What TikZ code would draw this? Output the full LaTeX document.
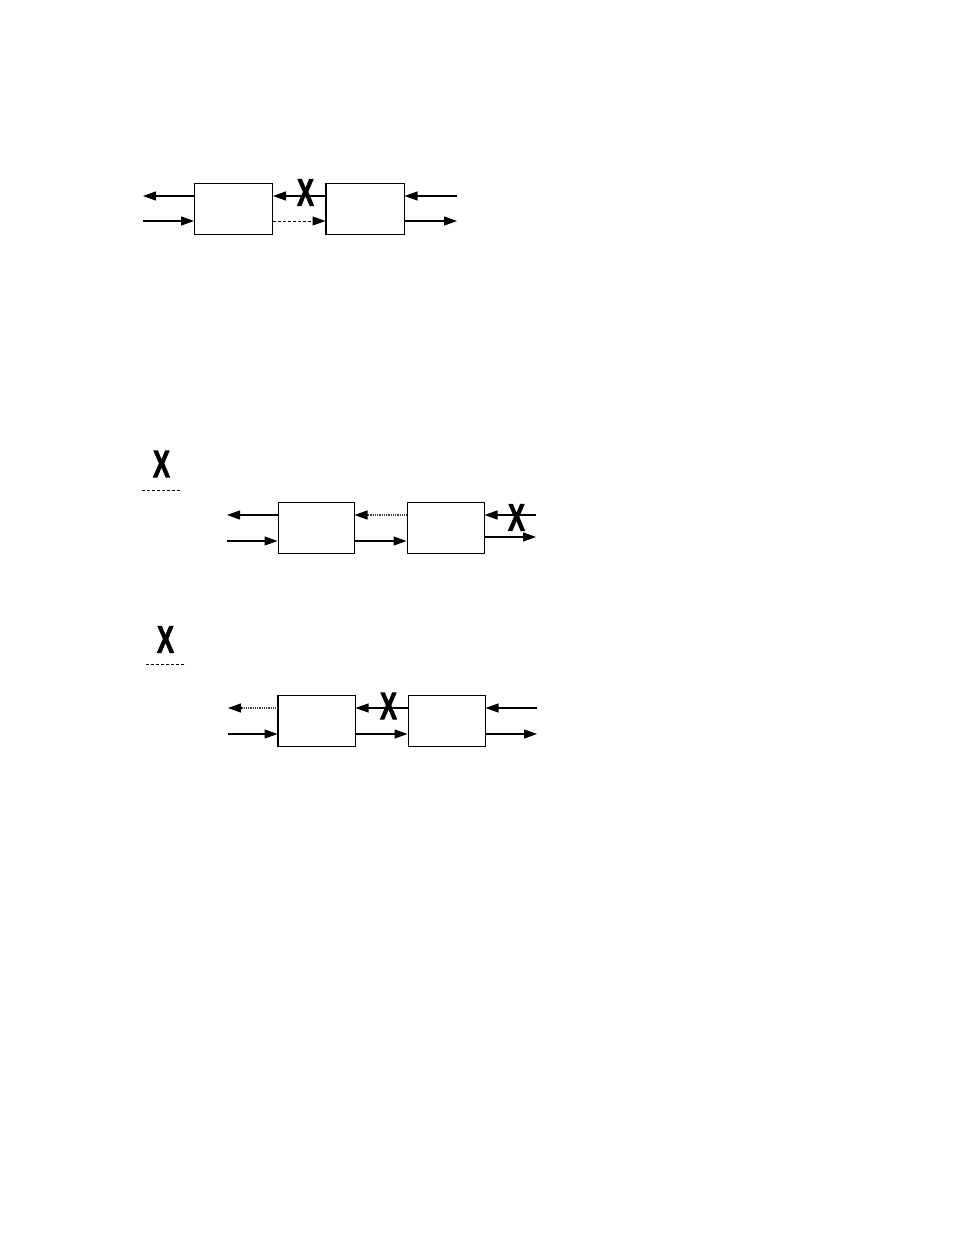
\documentclass[tikz,border=0pt]{standalone}
\usepackage{fontspec}
\setmainfont{Liberation Sans}
\newfontfamily\xfont[FakeBold=2.5]{Liberation Sans}
\usetikzlibrary{arrows.meta}
\begin{document}
\begin{tikzpicture}[x=1pt,y=-1pt,
  box/.style={draw, line width=1pt, inner sep=0pt, minimum width=78pt, minimum height=51pt},
  arr/.style={line width=1.2pt, -{Triangle[length=13pt,width=9pt]}},
  dashline/.style={line width=1pt, dash pattern=on 3pt off 2pt},
  dotline/.style={line width=1.2pt, dash pattern=on 1pt off 0.8pt, black!75},
  xmark/.style={inner sep=0pt, font=\xfont\fontsize{38}{38}\selectfont\bfseries}]
\useasboundingbox (0,0) rectangle (954,1235);

% ---------- diagram 1 ----------
\node[box] (A) at (233.5,208.5) {};
\node[box] (B) at (365,208.5) {};
\draw[line width=2pt] (B.north west) -- (B.south west);
\coordinate (a1l) at (143,196);
\coordinate (a2l) at (143,221);
\coordinate (a1r) at (457,196);
\coordinate (a2r) at (457,221);
\draw[arr] (A.west |- a1l) -- (a1l);
\draw[arr] (a2l) -- (A.west |- a2l);
\draw[arr] (B.west |- a1l) -- (A.east |- a1l);
\draw[dashline] (A.east |- a2l) -- (313,221);
\draw[arr] (313,221) -- (B.west |- a2l);
\draw[arr] (a1r) -- (B.east |- a1r);
\draw[arr] (B.east |- a2r) -- (a2r);
\node[xmark] (X1) at (305.5,192.5) {\scalebox{0.66}[1]{X}};

% ---------- diagram 2 ----------
\node[xmark] (L2) at (161.5,464) {\scalebox{0.66}[1]{X}};
\coordinate (l2a) at (142,490);
\coordinate (l2b) at (182,490);
\draw[dashline] (l2a) -- (l2b);
\node[box, minimum width=76pt] (C) at (316,527.5) {};
\node[box, minimum width=77pt] (D) at (445.5,527.5) {};
\coordinate (c1l) at (227,515);
\coordinate (c2l) at (227,541);
\coordinate (d1r) at (536,515);
\coordinate (d2r) at (536,537);
\draw[arr] (C.west |- c1l) -- (c1l);
\draw[arr] (c2l) -- (C.west |- c2l);
\draw[dotline] (D.west |- c1l) -- (368,515);
\draw[arr] (368,515) -- (C.east |- c1l);
\draw[arr] (C.east |- c2l) -- (D.west |- c2l);
\draw[arr] (d1r) -- (D.east |- d1r);
\draw[arr] (D.east |- d2r) -- (d2r);
\node[xmark] (X2) at (516.5,517.5) {\scalebox{0.66}[1]{X}};

% ---------- diagram 3 ----------
\node[xmark] (L3) at (165.5,639.5) {\scalebox{0.66}[1]{X}};
\coordinate (l3a) at (146,664);
\coordinate (l3b) at (186,664);
\draw[dashline] (l3a) -- (l3b);
\node[box, minimum width=77pt] (E) at (316.5,721) {};
\node[box, minimum width=77pt] (F) at (446.5,721) {};
\draw[line width=2pt] (E.north west) -- (E.south west);
\coordinate (e1l) at (228,708);
\coordinate (e2l) at (228,734);
\coordinate (f1r) at (537,708);
\coordinate (f2r) at (537,734);
\draw[dotline] (E.west |- e1l) -- (241,708);
\draw[arr] (241,708) -- (e1l);
\draw[arr] (e2l) -- (E.west |- e2l);
\draw[arr] (F.west |- e1l) -- (E.east |- e1l);
\draw[arr] (E.east |- e2l) -- (F.west |- e2l);
\draw[arr] (f1r) -- (F.east |- f1r);
\draw[arr] (F.east |- f2r) -- (f2r);
\node[xmark] (X3) at (388.5,706) {\scalebox{0.66}[1]{X}};
\end{tikzpicture}
\end{document}
